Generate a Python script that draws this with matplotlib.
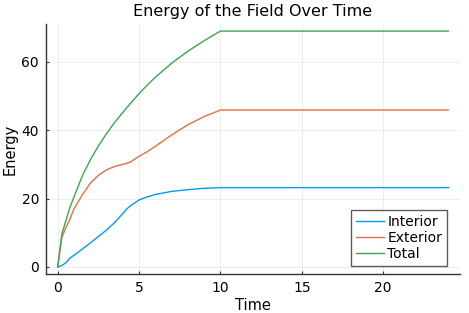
import matplotlib
matplotlib.use("Agg")
import matplotlib.pyplot as plt
import numpy as np

# time samples and energy values
time = [0, 0.25, 0.5, 0.75, 1, 1.5, 2, 2.5, 3, 3.5, 4, 4.25, 4.5, 5, 5.5, 6,
        7, 8, 9, 10, 12, 16, 20, 24]
interior = [0, 0.4, 1.2, 2.6, 3.4, 5.2, 7.0, 8.9, 10.8, 13.0, 15.6, 17.0, 18.0,
            19.6, 20.5, 21.2, 22.1, 22.6, 23.0, 23.2, 23.2, 23.2, 23.2, 23.2]
exterior = [0, 8.5, 11.5, 14.0, 17.0, 21.0, 24.5, 26.8, 28.4, 29.4, 30.0, 30.3,
            30.8, 32.4, 33.7, 35.3, 38.6, 41.6, 44.0, 45.9, 45.9, 45.9, 45.9, 45.9]
total = [0, 9.5, 13.5, 17.4, 20.5, 26.5, 31.3, 35.4, 39.0, 42.3, 45.2, 46.6,
         48.0, 50.7, 53.2, 55.5, 59.6, 63.1, 66.2, 69.0, 69.0, 69.0, 69.0, 69.0]

series = [("Interior", interior, "#009AFA"),
          ("Exterior", exterior, "#E36F47"),
          ("Total", total, "#3EA44E")]

fig = plt.figure(figsize=(4.69, 3.13), dpi=100)
ax = fig.add_axes([46 / 469, 1 - 274 / 313, (460 - 46) / 469, (274 - 24) / 313])

for name, vals, col in series:
    ax.plot(time, vals, color=col, lw=1.0, label=name)

ax.set_xlim(-0.72, 24.72)
ax.set_ylim(-2.07, 71.07)
ax.set_xticks([0, 5, 10, 15, 20])
ax.set_yticks([0, 20, 40, 60])
ax.grid(True, color="black", alpha=0.08, lw=0.6)
for s in ["top", "right"]:
    ax.spines[s].set_visible(False)
for s in ["left", "bottom"]:
    ax.spines[s].set_color("#333333")
    ax.spines[s].set_linewidth(1.0)
ax.tick_params(direction="in", length=2.5, width=0.8, labelsize=10, colors="#333333",
               labelcolor="black", pad=5)

ax.set_title("Energy of the Field Over Time", fontsize=11.5, pad=6)
ax.set_xlabel("Time", fontsize=10.5, labelpad=2)
ax.set_ylabel("Energy", fontsize=10.5, labelpad=3)

leg = ax.legend(loc="lower right", bbox_to_anchor=(0.9686, 0.032), fontsize=10,
                frameon=True, fancybox=False, handlelength=2.0, handletextpad=0.25,
                borderpad=0.35, labelspacing=0.15, borderaxespad=0)
leg.get_frame().set_edgecolor("#333333")
leg.get_frame().set_linewidth(1.0)

fig.savefig("out.png", dpi=100)
